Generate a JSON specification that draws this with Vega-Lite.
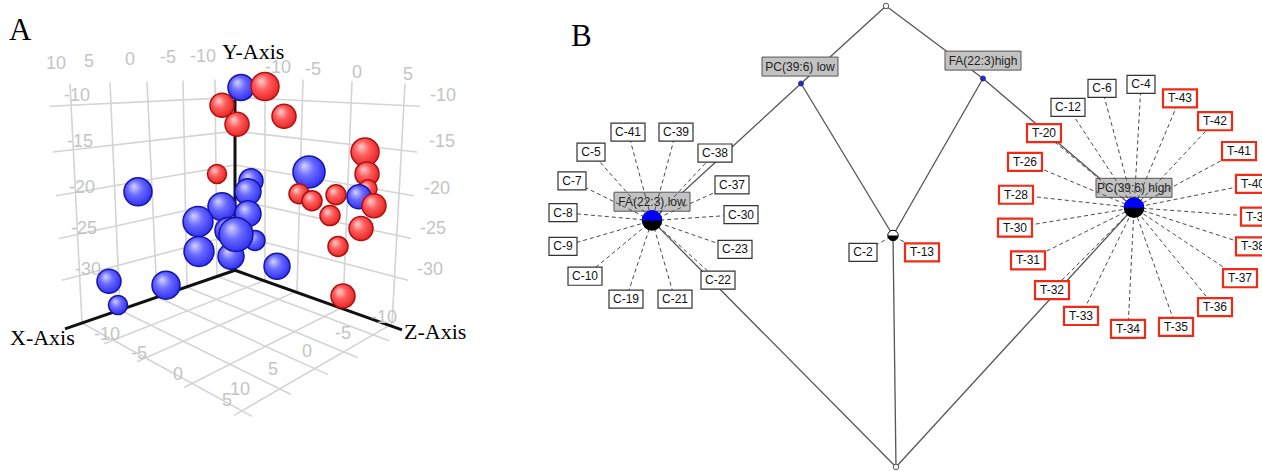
{
  "$schema": "https://vega.github.io/schema/vega-lite/v6.json",
  "width": 1262,
  "height": 472,
  "autosize": {"type": "fit", "contains": "padding"},
  "padding": 0,
  "background": "white",
  "config": {"view": {"stroke": null}},
  "datasets": {
    "gridA": [
      {"x": 70, "y": 84, "x2": 82, "y2": 325},
      {"x": 110, "y": 83, "x2": 120, "y2": 312},
      {"x": 147, "y": 82, "x2": 157, "y2": 299},
      {"x": 183, "y": 81, "x2": 187, "y2": 289},
      {"x": 215, "y": 80, "x2": 217, "y2": 278},
      {"x": 235, "y": 80, "x2": 235, "y2": 272},
      {"x": 265, "y": 80, "x2": 265, "y2": 282},
      {"x": 303, "y": 80, "x2": 297, "y2": 293},
      {"x": 352, "y": 82, "x2": 343, "y2": 309},
      {"x": 405, "y": 84, "x2": 392, "y2": 326},
      {"x": 50, "y": 107, "x2": 235, "y2": 98},
      {"x": 53, "y": 153, "x2": 235, "y2": 132},
      {"x": 56, "y": 197, "x2": 235, "y2": 166},
      {"x": 59, "y": 240, "x2": 235, "y2": 201},
      {"x": 62, "y": 282, "x2": 235, "y2": 236},
      {"x": 235, "y": 98, "x2": 420, "y2": 107},
      {"x": 235, "y": 132, "x2": 417, "y2": 153},
      {"x": 235, "y": 166, "x2": 414, "y2": 197},
      {"x": 235, "y": 201, "x2": 411, "y2": 240},
      {"x": 235, "y": 236, "x2": 408, "y2": 282},
      {"x": 217, "y": 278, "x2": 389, "y2": 343},
      {"x": 187, "y": 289, "x2": 358, "y2": 360},
      {"x": 157, "y": 299, "x2": 328, "y2": 377},
      {"x": 120, "y": 312, "x2": 291, "y2": 397},
      {"x": 82, "y": 325, "x2": 252, "y2": 419},
      {"x": 265, "y": 282, "x2": 104, "y2": 346},
      {"x": 297, "y": 293, "x2": 137, "y2": 364},
      {"x": 343, "y": 309, "x2": 184, "y2": 390},
      {"x": 392, "y": 326, "x2": 234, "y2": 418}
    ],
    "axesA": [
      {"x": 235, "y": 100, "x2": 235, "y2": 272},
      {"x": 235, "y": 272, "x2": 65, "y2": 331},
      {"x": 235, "y": 272, "x2": 402, "y2": 332}
    ],
    "ticksA": [
      {"x": 56, "y": 64, "t": "10"}, {"x": 89, "y": 62, "t": "5"}, {"x": 130, "y": 60, "t": "0"},
      {"x": 168, "y": 58, "t": "-5"}, {"x": 203, "y": 57, "t": "-10"},
      {"x": 278, "y": 68, "t": "-10"}, {"x": 313, "y": 70, "t": "-5"}, {"x": 357, "y": 73, "t": "0"}, {"x": 408, "y": 75, "t": "5"},
      {"x": 77, "y": 97, "t": "-10"}, {"x": 80, "y": 143, "t": "-15"}, {"x": 82, "y": 189, "t": "-20"},
      {"x": 84, "y": 230, "t": "-25"}, {"x": 88, "y": 272, "t": "-30"},
      {"x": 443, "y": 97, "t": "-10"}, {"x": 442, "y": 143, "t": "-15"}, {"x": 437, "y": 190, "t": "-20"},
      {"x": 433, "y": 230, "t": "-25"}, {"x": 430, "y": 272, "t": "-30"},
      {"x": 107, "y": 337, "t": "-10"}, {"x": 139, "y": 356, "t": "-5"}, {"x": 178, "y": 377, "t": "0"}, {"x": 227, "y": 404, "t": "5"},
      {"x": 384, "y": 320, "t": "-10"}, {"x": 343, "y": 336, "t": "-5"}, {"x": 307, "y": 354, "t": "0"},
      {"x": 273, "y": 372, "t": "5"}, {"x": 240, "y": 392, "t": "10"}
    ],
    "titlesA": [
      {"x": 222, "y": 59, "t": "Y-Axis"},
      {"x": 10, "y": 347, "t": "X-Axis"},
      {"x": 404, "y": 341, "t": "Z-Axis"}
    ],
    "letters": [
      {"x": 9, "y": 40, "t": "A"},
      {"x": 571, "y": 46, "t": "B"}
    ],
    "spheres": [
      {"x": 241, "y": 88, "r": 13, "c": "blue"},
      {"x": 265, "y": 87, "r": 14, "c": "red"},
      {"x": 222, "y": 106, "r": 12, "c": "red"},
      {"x": 237, "y": 125, "r": 12, "c": "red"},
      {"x": 284, "y": 117, "r": 12, "c": "red"},
      {"x": 217, "y": 175, "r": 9.5, "c": "red"},
      {"x": 138, "y": 193, "r": 14, "c": "blue"},
      {"x": 251, "y": 182, "r": 12, "c": "blue"},
      {"x": 248, "y": 193, "r": 13, "c": "blue"},
      {"x": 365, "y": 153, "r": 14, "c": "red"},
      {"x": 367, "y": 175, "r": 12, "c": "red"},
      {"x": 309, "y": 173, "r": 16, "c": "blue"},
      {"x": 299, "y": 195, "r": 10, "c": "red"},
      {"x": 312, "y": 202, "r": 10, "c": "red"},
      {"x": 336, "y": 196, "r": 10, "c": "red"},
      {"x": 368, "y": 190, "r": 9, "c": "red"},
      {"x": 359, "y": 198, "r": 12, "c": "blue"},
      {"x": 374, "y": 207, "r": 12, "c": "red"},
      {"x": 330, "y": 217, "r": 10, "c": "red"},
      {"x": 361, "y": 230, "r": 12, "c": "red"},
      {"x": 338, "y": 248, "r": 10, "c": "red"},
      {"x": 222, "y": 208, "r": 14, "c": "blue"},
      {"x": 248, "y": 215, "r": 13, "c": "blue"},
      {"x": 198, "y": 223, "r": 15, "c": "blue"},
      {"x": 255, "y": 242, "r": 10, "c": "blue"},
      {"x": 228, "y": 232, "r": 13, "c": "blue"},
      {"x": 231, "y": 258, "r": 13, "c": "blue"},
      {"x": 199, "y": 253, "r": 15, "c": "blue"},
      {"x": 236, "y": 236, "r": 17, "c": "blue"},
      {"x": 277, "y": 268, "r": 13, "c": "blue"},
      {"x": 166, "y": 287, "r": 14, "c": "blue"},
      {"x": 109, "y": 283, "r": 12, "c": "blue"},
      {"x": 118, "y": 307, "r": 9.5, "c": "blue"},
      {"x": 343, "y": 298, "r": 12, "c": "red"}
    ],
    "nodes": [
      {"id": "root", "x": 886, "y": 6},
      {"id": "PC", "x": 801, "y": 84},
      {"id": "FA", "x": 983, "y": 79},
      {"id": "L", "x": 652, "y": 222},
      {"id": "M", "x": 893, "y": 237},
      {"id": "R", "x": 1134, "y": 209},
      {"id": "bottom", "x": 896, "y": 470}
    ],
    "edges": [
      {"src": "root", "dst": "PC"},
      {"src": "root", "dst": "FA"},
      {"src": "PC", "dst": "L"},
      {"src": "PC", "dst": "M"},
      {"src": "FA", "dst": "M"},
      {"src": "FA", "dst": "R"},
      {"src": "L", "dst": "bottom"},
      {"src": "M", "dst": "bottom"},
      {"src": "R", "dst": "bottom"}
    ],
    "gray": [
      {"x": 800, "y": 67, "t": "PC(39:6) low"},
      {"x": 983, "y": 61, "t": "FA(22:3)high"},
      {"x": 652, "y": 203, "t": "FA(22:3) low"},
      {"x": 1134, "y": 189, "t": "PC(39:6) high"}
    ],
    "leaves": [
      {"label": "C-41", "x": 628, "y": 133, "group": "C", "parent": "L"},
      {"label": "C-39", "x": 676, "y": 133, "group": "C", "parent": "L"},
      {"label": "C-5", "x": 591, "y": 153, "group": "C", "parent": "L"},
      {"label": "C-38", "x": 715, "y": 154, "group": "C", "parent": "L"},
      {"label": "C-7", "x": 572, "y": 182, "group": "C", "parent": "L"},
      {"label": "C-37", "x": 732, "y": 186, "group": "C", "parent": "L"},
      {"label": "C-8", "x": 563, "y": 214, "group": "C", "parent": "L"},
      {"label": "C-30", "x": 741, "y": 216, "group": "C", "parent": "L"},
      {"label": "C-9", "x": 563, "y": 248, "group": "C", "parent": "L"},
      {"label": "C-23", "x": 735, "y": 251, "group": "C", "parent": "L"},
      {"label": "C-10", "x": 585, "y": 278, "group": "C", "parent": "L"},
      {"label": "C-22", "x": 718, "y": 282, "group": "C", "parent": "L"},
      {"label": "C-19", "x": 626, "y": 301, "group": "C", "parent": "L"},
      {"label": "C-21", "x": 675, "y": 301, "group": "C", "parent": "L"},
      {"label": "C-2", "x": 863, "y": 254, "group": "C", "parent": "M"},
      {"label": "T-13", "x": 922, "y": 254, "group": "T", "parent": "M"},
      {"label": "C-6", "x": 1102, "y": 89, "group": "C", "parent": "R"},
      {"label": "C-4", "x": 1141, "y": 85, "group": "C", "parent": "R"},
      {"label": "C-12", "x": 1068, "y": 108, "group": "C", "parent": "R"},
      {"label": "T-43", "x": 1180, "y": 99, "group": "T", "parent": "R"},
      {"label": "T-42", "x": 1215, "y": 122, "group": "T", "parent": "R"},
      {"label": "T-20", "x": 1044, "y": 134, "group": "T", "parent": "R"},
      {"label": "T-41", "x": 1239, "y": 152, "group": "T", "parent": "R"},
      {"label": "T-26", "x": 1025, "y": 163, "group": "T", "parent": "R"},
      {"label": "T-40", "x": 1253, "y": 185, "group": "T", "parent": "R"},
      {"label": "T-28", "x": 1016, "y": 196, "group": "T", "parent": "R"},
      {"label": "T-39", "x": 1258, "y": 218, "group": "T", "parent": "R"},
      {"label": "T-30", "x": 1015, "y": 229, "group": "T", "parent": "R"},
      {"label": "T-38", "x": 1253, "y": 248, "group": "T", "parent": "R"},
      {"label": "T-31", "x": 1028, "y": 262, "group": "T", "parent": "R"},
      {"label": "T-37", "x": 1240, "y": 280, "group": "T", "parent": "R"},
      {"label": "T-32", "x": 1052, "y": 292, "group": "T", "parent": "R"},
      {"label": "T-36", "x": 1215, "y": 309, "group": "T", "parent": "R"},
      {"label": "T-33", "x": 1081, "y": 318, "group": "T", "parent": "R"},
      {"label": "T-35", "x": 1176, "y": 329, "group": "T", "parent": "R"},
      {"label": "T-34", "x": 1128, "y": 331, "group": "T", "parent": "R"}
    ]
  },
  "encoding": {
    "x": {"field": "x", "type": "quantitative", "scale": {"domain": [0, 1262], "nice": false, "zero": false}, "axis": null},
    "y": {"field": "y", "type": "quantitative", "scale": {"domain": [0, 472], "nice": false, "zero": false, "reverse": true}, "axis": null}
  },
  "layer": [
    {
      "data": {"name": "gridA"},
      "mark": {"type": "rule", "stroke": "#d4d4d4", "strokeWidth": 1.6},
      "encoding": {"x2": {"field": "x2"}, "y2": {"field": "y2"}}
    },
    {
      "data": {"name": "axesA"},
      "mark": {"type": "rule", "stroke": "#111111", "strokeWidth": 3},
      "encoding": {"x2": {"field": "x2"}, "y2": {"field": "y2"}}
    },
    {
      "data": {"name": "ticksA"},
      "mark": {"type": "text", "font": "Liberation Sans", "fontSize": 18, "fill": "#c4c4c4", "align": "center", "baseline": "middle"},
      "encoding": {"text": {"field": "t", "type": "nominal"}}
    },
    {
      "data": {"name": "spheres"},
      "mark": {"type": "point", "shape": "circle", "filled": true, "opacity": 1, "strokeWidth": 1.5},
      "encoding": {
        "size": {"field": "r", "type": "quantitative", "scale": {"type": "pow", "exponent": 2, "domain": [0, 20], "range": [0, 1600]}, "legend": null},
        "fill": {
          "condition": {"test": "datum.c == 'red'", "value": {"gradient": "radial", "x1": 0.35, "y1": 0.3, "r1": 0, "x2": 0.45, "y2": 0.45, "r2": 0.6, "stops": [{"offset": 0, "color": "#ffd0d0"}, {"offset": 0.45, "color": "#ff5c5c"}, {"offset": 1, "color": "#e42020"}]}},
          "value": {"gradient": "radial", "x1": 0.35, "y1": 0.3, "r1": 0, "x2": 0.45, "y2": 0.45, "r2": 0.6, "stops": [{"offset": 0, "color": "#d4d4ff"}, {"offset": 0.45, "color": "#6a6aff"}, {"offset": 1, "color": "#2a2af0"}]}
        },
        "stroke": {"condition": {"test": "datum.c == 'red'", "value": "#b01010"}, "value": "#1414a8"}
      }
    },
    {
      "data": {"name": "titlesA"},
      "mark": {"type": "text", "font": "Liberation Serif", "fontSize": 22, "fill": "#000000", "align": "left", "baseline": "alphabetic"},
      "encoding": {"text": {"field": "t", "type": "nominal"}}
    },
    {
      "data": {"name": "letters"},
      "mark": {"type": "text", "font": "Liberation Serif", "fontSize": 31, "fill": "#000000", "align": "left", "baseline": "alphabetic"},
      "encoding": {"text": {"field": "t", "type": "nominal"}}
    },
    {
      "data": {"name": "edges"},
      "transform": [
        {"lookup": "src", "from": {"data": {"name": "nodes"}, "key": "id", "fields": ["x", "y"]}, "as": ["x", "y"]},
        {"lookup": "dst", "from": {"data": {"name": "nodes"}, "key": "id", "fields": ["x", "y"]}, "as": ["x2", "y2"]}
      ],
      "mark": {"type": "rule", "stroke": "#555555", "strokeWidth": 1.3},
      "encoding": {"x2": {"field": "x2"}, "y2": {"field": "y2"}}
    },
    {
      "data": {"name": "gray"},
      "mark": {"type": "point", "shape": "M-1,-0.25H1V0.25H-1Z", "size": 5776, "filled": true, "opacity": 1, "fill": "#c2c2c2", "stroke": "#555555", "strokeWidth": 1}
    },
    {
      "data": {"name": "gray"},
      "mark": {"type": "text", "font": "Liberation Sans", "fontSize": 12, "fill": "#222222", "align": "center", "baseline": "middle"},
      "encoding": {"text": {"field": "t", "type": "nominal"}}
    },
    {
      "data": {"name": "leaves"},
      "transform": [
        {"lookup": "parent", "from": {"data": {"name": "nodes"}, "key": "id", "fields": ["x", "y"]}, "as": ["px", "py"]}
      ],
      "mark": {"type": "rule", "stroke": "#4a4a4a", "strokeWidth": 1, "strokeDash": [4, 3], "clip": true},
      "encoding": {"x2": {"field": "px"}, "y2": {"field": "py"}}
    },
    {
      "data": {"name": "nodes"},
      "transform": [{"filter": "datum.id == 'L' || datum.id == 'R'"}],
      "mark": {"type": "point", "shape": "circle", "size": 420, "filled": true, "opacity": 1, "fill": "#000000"}
    },
    {
      "data": {"name": "nodes"},
      "transform": [{"filter": "datum.id == 'L' || datum.id == 'R'"}],
      "mark": {"type": "point", "shape": "M-1,0A1,1 0 0 1 1,0Z", "size": 420, "filled": true, "opacity": 1, "fill": "#0000ff"}
    },
    {
      "data": {"name": "nodes"},
      "transform": [{"filter": "datum.id == 'M'"}],
      "mark": {"type": "point", "shape": "circle", "size": 110, "filled": true, "opacity": 1, "fill": "#ffffff", "stroke": "#000000", "strokeWidth": 1}
    },
    {
      "data": {"name": "nodes"},
      "transform": [{"filter": "datum.id == 'M'"}],
      "mark": {"type": "point", "shape": "M-1,0A1,1 0 0 0 1,0Z", "size": 110, "filled": true, "opacity": 1, "fill": "#000000"}
    },
    {
      "data": {"name": "nodes"},
      "transform": [{"filter": "datum.id == 'root' || datum.id == 'bottom'"}],
      "mark": {"type": "point", "shape": "circle", "size": 30, "filled": true, "opacity": 1, "fill": "#ffffff", "stroke": "#555555", "strokeWidth": 1}
    },
    {
      "data": {"name": "nodes"},
      "transform": [{"filter": "datum.id == 'PC' || datum.id == 'FA'"}],
      "mark": {"type": "point", "shape": "circle", "size": 26, "filled": true, "opacity": 1, "fill": "#2020ff", "stroke": "#333333", "strokeWidth": 0.8}
    },
    {
      "data": {"name": "leaves"},
      "mark": {"type": "point", "filled": true, "opacity": 1, "fill": "#ffffff", "clip": true},
      "encoding": {
        "shape": {"condition": {"test": "length(datum.label) == 3", "value": "M-1,-0.643H1V0.643H-1Z"}, "value": "M-1,-0.53H1V0.53H-1Z"},
        "size": {"condition": {"test": "length(datum.label) == 3", "value": 784}, "value": 1156},
        "stroke": {"condition": {"test": "datum.group == 'T'", "value": "#f02a14"}, "value": "#333333"},
        "strokeWidth": {"condition": {"test": "datum.group == 'T'", "value": 2.2}, "value": 1.2}
      }
    },
    {
      "data": {"name": "leaves"},
      "mark": {"type": "text", "font": "Liberation Sans", "fontSize": 12, "fill": "#111111", "align": "center", "baseline": "middle", "clip": true},
      "encoding": {"text": {"field": "label", "type": "nominal"}}
    }
  ]
}
